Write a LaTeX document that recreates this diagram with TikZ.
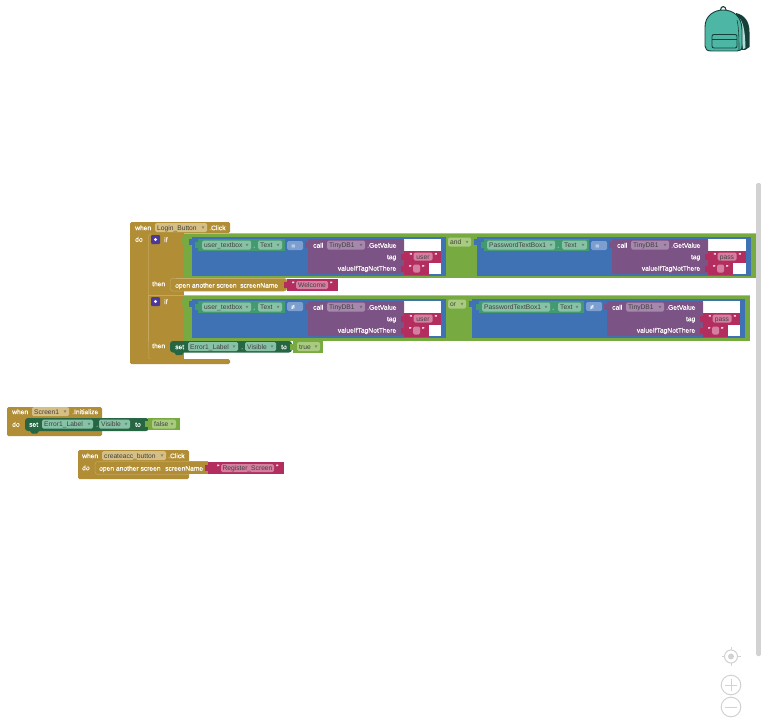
\documentclass[tikz,border=0pt]{standalone}
\usepackage{fontspec}
\setmainfont{Liberation Sans}
\definecolor{gold}{HTML}{B18E35}
\definecolor{goldlt}{HTML}{D6BF85}
\definecolor{goldln}{HTML}{C4A85F}
\definecolor{logic}{HTML}{77AB41}
\definecolor{logiclt}{HTML}{A8CB80}
\definecolor{cmp}{HTML}{3F71B5}
\definecolor{cmplt}{HTML}{7C9FD0}
\definecolor{purp}{HTML}{7C5385}
\definecolor{purplt}{HTML}{A588AC}
\definecolor{pink}{HTML}{B32D5E}
\definecolor{pinklt}{HTML}{D47F9F}
\definecolor{dkgreen}{HTML}{266643}
\definecolor{comp}{HTML}{439970}
\definecolor{complt}{HTML}{88C2A6}
\definecolor{teal}{HTML}{4DB6A4}
\definecolor{bagdk}{HTML}{173F3A}
\definecolor{uigrey}{HTML}{D2D2D2}
\definecolor{mutator}{HTML}{4B3A9A}
\newcount\nid
\newcommand{\nextid}{\global\advance\nid by 1 }
% plain white label, x = left edge, y = centre line
\newcommand{\lbl}[3]{\nextid\node[lab,name=t\the\nid] at (#1,#2+2.7) {#3};}
% white label, right aligned
\newcommand{\rlbl}[3]{\nextid\node[labr,name=t\the\nid] at (#1,#2+2.7) {#3};}
% field: fill, text colour, x1,x2,yc,text
\newcommand{\fld}[6]{%
  \fill[#1,rounded corners=1.5pt] (#3,#5-4.5) rectangle (#4,#5+4.5);
  \nextid\node[flab,text=#2,name=t\the\nid] at (#3+2,#5+2.7) {#6};
  \fill[#2,opacity=.45] (#4-5.5,#5-1.2) -- (#4-2.5,#5-1.2) -- (#4-4,#5+1.4) -- cycle;}
% string field without dropdown
\newcommand{\sfld}[6]{%
  \fill[#1,rounded corners=1.5pt] (#3,#5-4) rectangle (#4,#5+4);
  \nextid\node[flab,text=#2,name=t\the\nid,anchor=base] at ({(#3+#4)/2},#5+2.7) {#6};}
\newcommand{\plug}[3]{\fill[#1] (#2-3,#3+1) rectangle (#2+.5,#3+7);}
% pink string block x1 yc x2 text fieldx1 fieldx2
\newcommand{\pstr}[6]{%
  \fill[pink] (#1,#2-6) rectangle (#3,#2+6);
  \plug{pink}{#1}{#2-4}
  \sfld{pinklt}{black!75}{#5}{#6}{#2}{#4}
  \lbl{#5-4}{#2-1.5}{"}\lbl{#6+2}{#2-1.5}{"}}
% TinyDB call: x = purple left edge, right = right edge of socket, y = top
\newcommand{\dbcall}[4]{%
  \fill[white] (#1+96,#3) rectangle (#2,#3+35);
  \fill[purp,rounded corners=1pt] (#1,#3) rectangle (#1+96,#3+35);
  \plug{purp}{#1}{#3+2}
  \lbl{#1+5}{#3+6}{call}
  \fld{purplt}{black!75}{#1+19}{#1+57}{#3+6}{TinyDB1}
  \lbl{#1+59}{#3+6}{.GetValue}
  \rlbl{#1+88.5}{#3+17.5}{tag}
  \rlbl{#1+88.5}{#3+29}{valueIfTagNotThere}
  \pstr{#1+96}{#3+17.5}{#2}{#4}{#1+105.5}{#1+124.5}
  \fill[white] (#1+96,#3+23.5) rectangle (#2,#3+35);
  \pstr{#1+96}{#3+29.5}{#1+121}{\vphantom{g}}{#1+105}{#1+112}}
% component getter: x1 x2 yc, name f1 f2, text f1 f2
\newcommand{\getter}[9]{%
  \fill[comp] (#1,#3-6) rectangle (#2,#3+6);
  \plug{comp}{#1}{#3-4}
  \fld{complt}{black!75}{#5}{#6}{#3}{#4}
  \lbl{#6+2}{#3}{.}
  \fld{complt}{black!75}{#8}{#9}{#3}{#7}}
\newcommand{\ops}[3]{\fill[cmplt,rounded corners=1.5pt] (#1,#3-4.5) rectangle (#2,#3+4.5);}
\newcommand{\blockfont}{\fontsize{6.7}{7}\selectfont\addfontfeature{FakeBold=0.3}}
\tikzset{
  lab/.style={anchor=base west,inner sep=0pt,text=white,font=\blockfont},
  labr/.style={anchor=base east,inner sep=0pt,text=white,font=\blockfont},
  flab/.style={anchor=base west,inner sep=0pt,font=\fontsize{6.7}{7}\selectfont},
  uiline/.style={draw=uigrey,line width=1pt,fill=white}
}
\begin{document}
\begin{tikzpicture}[x=1pt,y=-1pt]
\useasboundingbox (0,0) rectangle (761,725);
\fill[white] (0,0) rectangle (761,725);

% ---- backpack
\fill[bagdk] (736,13) .. controls (745,15) and (749.5,22) .. (749.5,32) -- (749.5,47) -- (745,50) -- (740,50) -- cycle;
\fill[teal!45!white] (738,17) .. controls (742,20) and (745,26) .. (745.5,48) -- (743,49) -- cycle;
\draw[bagdk,line width=1.1pt] (720.5,10) .. controls (720.5,5.5) and (726,5.5) .. (726,10);
\fill[teal,draw=bagdk,line width=.9pt] (705,27) .. controls (705,15) and (715,10) .. (723,10) .. controls (733,10) and (742,16) .. (742,30) -- (742,46) .. controls (742,50) and (740,51) .. (737,51) -- (711,51) .. controls (707,51) and (705,49) .. (705,46) -- cycle;
\draw[bagdk,line width=.6pt] (737,20) .. controls (738.5,26) and (739,35) .. (739,50);
\fill[teal,draw=bagdk,line width=.9pt,rounded corners=2pt] (712,34.5) rectangle (737,48);
\draw[bagdk,line width=.7pt] (712,39.5) -- (737,39.5);

% ---- scrollbar and workspace controls
\fill[uigrey,rounded corners=1.5pt] (756,183) rectangle (761,656);
\draw[uigrey,line width=1pt] (731,656.5) circle (6.5);
\fill[uigrey] (731,656.5) circle (3);
\foreach \a/\b/\c/\d in {731/647/731/650, 731/663/731/666, 721.5/656.5/724.5/656.5, 737.5/656.5/740.5/656.5}
  \draw[uigrey,line width=1pt] (\a,\b) -- (\c,\d);
\draw[uiline] (731,685) circle (9.8);
\draw[uigrey,line width=1pt] (725,685) -- (737,685) (731,679) -- (731,691);
\draw[uiline] (731,707) circle (9.8);
\draw[uigrey,line width=1pt] (725,707) -- (737,707);

% ---- Login_Button.Click
\fill[gold,rounded corners=1.5pt] (130,222) -- (230,222) -- (230,233) -- (148,233) -- (148,359) -- (230,359) -- (230,364) -- (130,364) -- cycle;
\fill[gold] (147,233) rectangle (184,278);
\fill[gold] (147,278) rectangle (176,295);
\fill[gold] (147,291) rectangle (184,295);
\fill[gold] (147,295) rectangle (184,341);
\fill[gold] (147,341) rectangle (176,359);
\fill[gold] (147,352.5) rectangle (184,359);
\draw[goldln,line width=.5pt] (158,358.5) -- (149,358.5) -- (148.5,340) (148.5,295) -- (148.5,236) -- (151,233.5);
\draw[goldln,line width=.5pt] (148.5,295) -- (184,295) (148.5,295) -- (148.5,341);
\fill[gold] (150,358) -- (160,358) -- (158,361) -- (152,361) -- cycle;
\lbl{135}{227.5}{when}
\fld{goldlt}{black!75}{155}{207}{227.5}{Login\_Button}
\lbl{209}{227.5}{.Click}
\lbl{135}{239}{do}

% first if
\fill[logic] (184,233) rectangle (756,278);
\draw[logiclt,line width=.6pt] (184,233.3) -- (756,233.3);
\plug{logic}{184}{237}
\fill[cmp] (192,237) rectangle (446,276);
\plug{cmp}{192}{238}
\fill[cmp] (477,237) rectangle (751,276);
\plug{cmp}{477}{238}
\fld{logiclt}{black!75}{448}{471}{242}{and}
\fill[mutator,rounded corners=1pt] (151,235) rectangle (160,244);
\fill[white] (155.5,239.5) circle (1.7);
\lbl{164}{239.5}{if}
\getter{198}{285}{245}{user\_textbox}{202}{251}{Text}{258}{282}
\ops{287}{303}{245.5}
\lbl{291}{245.5}{=}
\dbcall{308}{441}{239}{user}
\getter{484}{589}{245}{PasswordTextBox1}{487}{555}{Text}{562}{587}
\ops{591}{607}{245.5}
\lbl{595}{245.5}{=}
\dbcall{612}{746}{239}{pass}

% then open another screen (Welcome)
\lbl{152}{283.5}{then}
\fill[gold,draw=goldln,line width=.5pt,rounded corners=3pt] (170,278.3) -- (287,278.3) -- (287,291) -- (170,291) -- cycle;
\lbl{175}{285}{open another screen}
\lbl{240}{285}{screenName}
\pstr{287}{285}{338}{Welcome}{296}{328}

% second if
\fill[logic] (184,295) rectangle (750,341);
\draw[logiclt,line width=.6pt] (184,295.3) -- (750,295.3);
\plug{logic}{184}{299}
\fill[cmp] (192,299) rectangle (446,338);
\plug{cmp}{192}{300}
\fill[cmp] (472,299) rectangle (745,338);
\plug{cmp}{472}{300}
\fld{logiclt}{black!75}{448}{466}{304}{or}
\fill[mutator,rounded corners=1pt] (151,297) rectangle (160,306);
\fill[white] (155.5,301.5) circle (1.7);
\lbl{164}{301.5}{if}
\getter{198}{285}{307}{user\_textbox}{202}{251}{Text}{258}{282}
\ops{287}{303}{306.5}
\lbl{291}{306.5}{≠}
\dbcall{308}{441}{301}{user}
\getter{479}{584}{307}{PasswordTextBox1}{482}{550}{Text}{558}{581}
\ops{586}{602}{306.5}
\lbl{590}{306.5}{≠}
\dbcall{607}{740}{301}{pass}

% then set Error1_Label.Visible to true
\lbl{152}{345.5}{then}
\fill[dkgreen,rounded corners=3pt] (170,341) rectangle (292,352.5);
\fill[dkgreen] (174,352) -- (184,352) -- (182,355) -- (176,355) -- cycle;
\lbl{175}{346.5}{set}
\fld{complt}{black!75}{188}{238}{346.5}{Error1\_Label}
\lbl{241}{346.5}{.}
\fld{complt}{black!75}{245}{276}{346.5}{Visible}
\lbl{281}{346.5}{to}
\fill[logic] (293,341) rectangle (323,353);
\plug{logic}{293}{343}
\fld{logiclt}{black!75}{297}{320}{346.5}{true}

% ---- Screen1.Initialize
\fill[gold,rounded corners=1.5pt] (7,407) -- (102,407) -- (102,436) -- (7,436) -- cycle;
\lbl{12}{411.5}{when}
\fld{goldlt}{black!75}{32}{69}{411.5}{Screen1}
\lbl{72}{411.5}{.Initialize}
\lbl{12}{424}{do}
\fill[dkgreen,rounded corners=3pt] (25,418) rectangle (149,431);
\fill[dkgreen] (30,431) -- (39,431) -- (37,433.5) -- (32,433.5) -- cycle;
\lbl{29}{424}{set}
\fld{complt}{black!75}{42}{93}{424}{Error1\_Label}
\lbl{96}{424}{.}
\fld{complt}{black!75}{99}{130}{424}{Visible}
\lbl{135}{424}{to}
\fill[logic] (148,418) rectangle (180,430);
\plug{logic}{148}{420}
\fld{logiclt}{black!75}{152}{176}{424}{false}

% ---- createacc_button.Click
\fill[gold,rounded corners=1.5pt] (78,450) -- (189,450) -- (189,479) -- (78,479) -- cycle;
\fill[gold] (189,461) rectangle (208,474);
\lbl{82}{455.5}{when}
\fld{goldlt}{black!75}{102}{166}{455.5}{createacc\_button}
\lbl{168}{455.5}{.Click}
\lbl{82}{467.5}{do}
\draw[goldln,line width=.5pt,rounded corners=3pt] (208,461.5) -- (95,461.5) -- (95,474.5) -- (189,474.5);
\lbl{99}{468}{open another screen}
\lbl{165}{468}{screenName}
\pstr{208}{468}{284}{Register\_Screen}{221}{274}
\end{tikzpicture}
\end{document}
